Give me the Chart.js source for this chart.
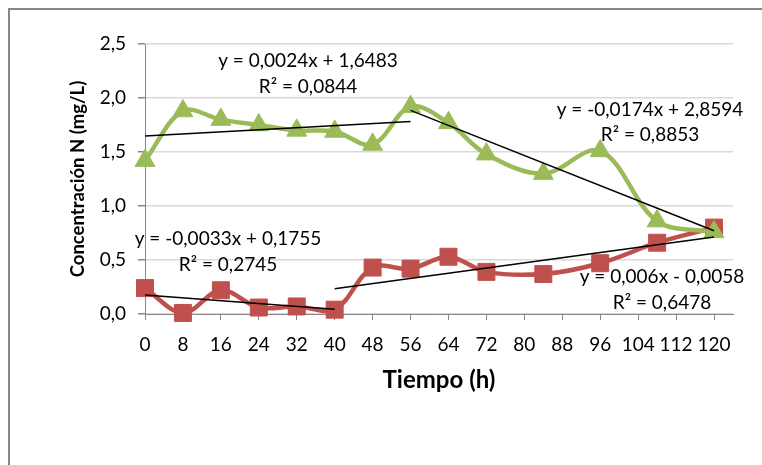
<!DOCTYPE html>
<html>
<head>
<meta charset="utf-8">
<script src="https://cdn.jsdelivr.net/npm/chart.js@4"></script>
<style>
  html, body { margin: 0; padding: 0; background: #fff; overflow: hidden; }
  #frame { position: absolute; left: 8px; top: 8px; width: 800px; height: 500px; border: 2px solid #868686; }
  #wrap { position: absolute; left: 0; top: 0; width: 762px; height: 465px; }
</style>
</head>
<body>
<div id="frame"></div>
<div id="wrap"><canvas id="chart" width="762" height="465"></canvas></div>
<script>
// tiempo (h)
const tiempo = [0, 8, 16, 24, 32, 40, 48, 56, 64, 72, 84, 96, 108, 120];
// concentracion N (mg/L)
const serieVerde = [1.42, 1.88, 1.80, 1.75, 1.70, 1.69, 1.57, 1.92, 1.77, 1.48, 1.30, 1.51, 0.86, 0.76];
const serieRoja = [0.24, 0.01, 0.22, 0.06, 0.07, 0.04, 0.43, 0.42, 0.53, 0.39, 0.37, 0.47, 0.66, 0.80];

// trend line end points
const tendVerde1X = [0, 56];
const tendVerde1Y = [1.648, 1.783];
const tendVerde2X = [56, 120];
const tendVerde2Y = [1.885, 0.771];
const tendRoja1X = [0, 40];
const tendRoja1Y = [0.176, 0.044];
const tendRoja2X = [40, 120];
const tendRoja2Y = [0.234, 0.714];

const xTicks = [0, 8, 16, 24, 32, 40, 48, 56, 64, 72, 80, 88, 96, 104, 112, 120];
const yTicks = [0, 0.5, 1.0, 1.5, 2.0, 2.5];

const ecuaciones = [
  ["y = 0,0024x + 1,6483", "R² = 0,0844"],
  ["y = -0,0174x + 2,8594", "R² = 0,8853"],
  ["y = -0,0033x + 0,1755", "R² = 0,2745"],
  ["y = 0,006x - 0,0058", "R² = 0,6478"]
];

const pts = (xs, ys) => xs.map((x, i) => ({ x: x, y: ys[i] }));

const trend = (xs, ys) => ({
  data: pts(xs, ys),
  showLine: true,
  borderColor: "#000",
  borderWidth: 1.5,
  pointRadius: 0,
  tension: 0,
  clip: false,
  order: 0
});

// text boxes of the trend equations
const labelPlugin = {
  id: "labels",
  afterDatasetsDraw(chart) {
    const ctx = chart.ctx;
    const pos = [[308, 61, 87], [650, 110, 135], [228, 239, 265], [662, 277, 303]];
    ctx.save();
    ctx.font = "19px Lato";
    ctx.fillStyle = "#000";
    ctx.textAlign = "center";
    ctx.textBaseline = "middle";
    ecuaciones.forEach((e, i) => {
      ctx.fillText(e[0], pos[i][0], pos[i][1]);
      ctx.fillText(e[1], pos[i][0], pos[i][2]);
    });
    ctx.restore();
  }
};

const fmt = (v) => v.toFixed(1).replace(".", ",");

new Chart(document.getElementById("chart").getContext("2d"), {
  type: "scatter",
  data: {
    datasets: [
      trend(tendVerde1X, tendVerde1Y),
      trend(tendVerde2X, tendVerde2Y),
      trend(tendRoja1X, tendRoja1Y),
      trend(tendRoja2X, tendRoja2Y),
      {
        data: pts(tiempo, serieVerde),
        showLine: true,
        borderColor: "#9BBB59",
        backgroundColor: "#9BBB59",
        borderWidth: 4.5,
        tension: 0.35,
        pointStyle: "triangle",
        pointRadius: 11.5,
        pointBorderWidth: 1,
        clip: false,
        order: 1
      },
      {
        data: pts(tiempo, serieRoja),
        showLine: true,
        borderColor: "#C0504D",
        backgroundColor: "#C0504D",
        borderWidth: 4.5,
        tension: 0.35,
        pointStyle: "rect",
        pointRadius: 12,
        pointBorderWidth: 1,
        clip: false,
        order: 2
      }
    ]
  },
  options: {
    responsive: false,
    animation: false,
    layout: { padding: { left: 0, top: 44, right: 29, bottom: 61 } },
    plugins: {
      legend: { display: false },
      tooltip: { enabled: false }
    },
    scales: {
      x: {
        type: "linear",
        min: 0,
        max: 124,
        afterFit: (s) => { s.height = 90; },
        afterBuildTicks: (s) => { s.ticks = xTicks.map((v) => ({ value: v })); },
        grid: { drawOnChartArea: false, color: "#868686", tickLength: 6 },
        border: { color: "#868686", width: 1 },
        ticks: { font: { family: "Lato", size: 19 }, color: "#000", padding: 13, maxRotation: 0, autoSkip: false },
        title: { display: true, text: "Tiempo (h)", font: { family: "Lato", size: 24, weight: "bold" }, color: "#000", padding: { bottom: 9 } }
      },
      y: {
        min: 0,
        max: 2.5,
        afterFit: (s) => { s.width = 145; },
        afterBuildTicks: (s) => { s.ticks = yTicks.map((v) => ({ value: v })); },
        grid: { color: "#D9D9D9", tickColor: "#868686", tickLength: 7, lineWidth: 1.5 },
        border: { color: "#868686", width: 1 },
        ticks: { font: { family: "Lato", size: 19 }, color: "#000", padding: 12, callback: fmt },
        title: { display: true, text: "Concentración N (mg/L)", font: { family: "Lato", size: 18.5, weight: "bold" }, color: "#000", padding: { top: 67 } }
      }
    }
  },
  plugins: [labelPlugin]
});
</script>
</body>
</html>
